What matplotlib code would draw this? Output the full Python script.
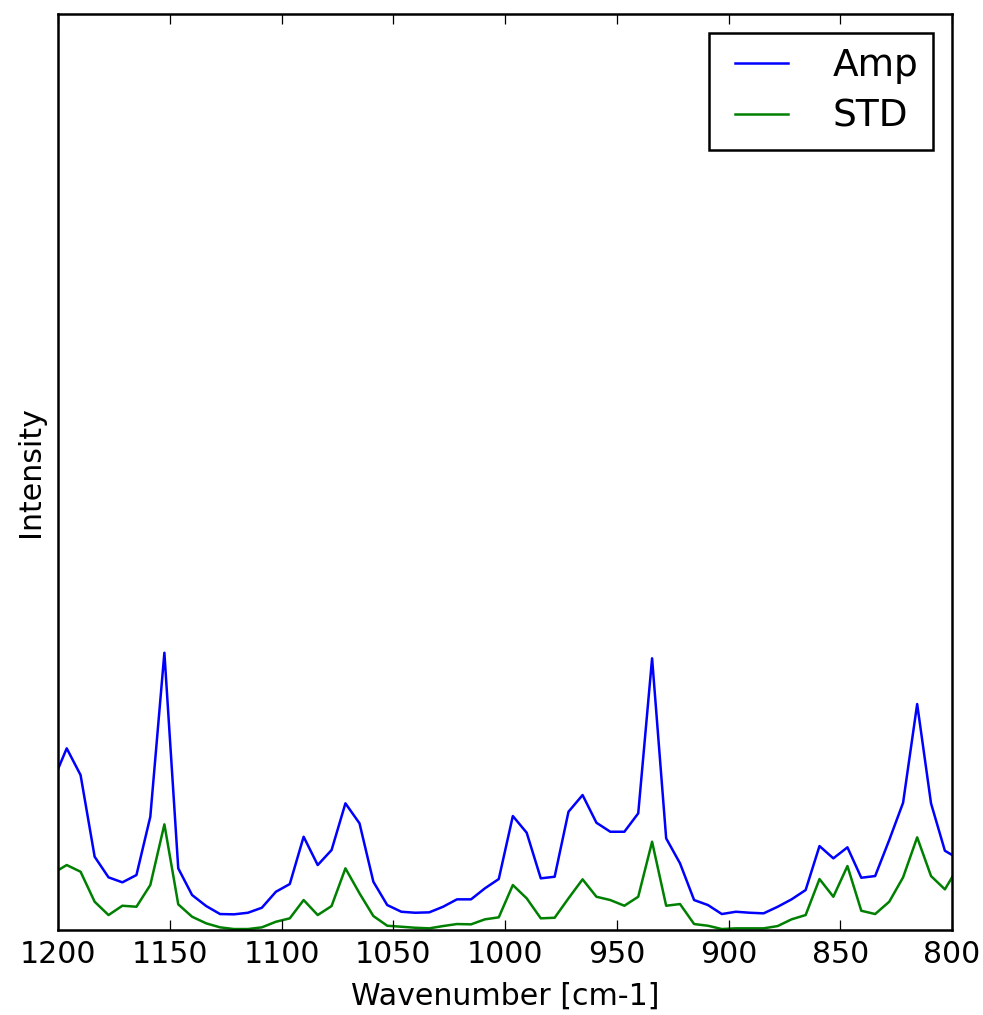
import numpy as np
import matplotlib
matplotlib.use("Agg")
import matplotlib.pyplot as plt

plt.style.use("classic")

# spectral axis (cm-1), sampled slightly beyond the plotted window on both ends
wavenumber = [1202.3, 1196.1, 1189.9, 1183.6, 1177.4, 1171.2, 1164.9, 1158.7,
              1152.4, 1146.2, 1140.0, 1133.7, 1127.5, 1121.3, 1115.0, 1108.8,
              1102.5, 1096.3, 1090.1, 1083.8, 1077.6, 1071.4, 1065.1, 1058.9,
              1052.7, 1046.4, 1040.2, 1033.9, 1027.7, 1021.5, 1015.2, 1009.0,
              1002.8, 996.5, 990.3, 984.0, 977.8, 971.6, 965.3, 959.1,
              952.9, 946.6, 940.4, 934.2, 927.9, 921.7, 915.4, 909.2,
              903.0, 896.7, 890.5, 884.3, 878.0, 871.8, 865.5, 859.3,
              853.1, 846.8, 840.6, 834.4, 828.1, 821.9, 815.6, 809.4,
              803.2, 796.9]

amp = [148.6, 181.7, 155.0, 73.3, 52.7, 47.7, 55.0, 113.3,
       277.3, 61.7, 35.0, 24.0, 16.0, 15.7, 17.3, 22.3,
       38.3, 46.0, 93.3, 65.0, 80.0, 126.7, 106.7, 48.3,
       25.0, 18.3, 17.3, 17.7, 23.3, 30.7, 30.7, 41.7,
       51.0, 114.0, 97.3, 51.7, 53.3, 118.3, 135.0, 107.3,
       98.3, 98.3, 116.7, 271.7, 91.7, 66.7, 30.0, 25.0,
       16.0, 18.3, 17.3, 16.7, 23.3, 30.7, 40.0, 84.0,
       71.7, 82.7, 52.3, 54.0, 90.0, 127.3, 226.0, 126.7,
       79.3, 71.0]

std = [56.7, 65.0, 58.3, 28.3, 15.0, 24.3, 23.3, 45.0,
       105.7, 25.7, 13.3, 6.7, 2.7, 1.0, 1.0, 2.7,
       8.3, 11.7, 30.0, 15.0, 24.0, 61.7, 36.7, 14.0,
       4.3, 3.3, 2.3, 1.7, 4.0, 6.0, 5.7, 10.7,
       12.7, 45.0, 31.7, 11.7, 12.3, 31.7, 50.7, 33.3,
       30.0, 24.3, 33.3, 88.3, 24.3, 26.0, 6.0, 4.3,
       1.0, 1.7, 1.7, 1.7, 4.0, 10.7, 15.0, 51.0,
       33.3, 64.0, 19.3, 16.0, 28.3, 52.7, 92.7, 54.0,
       40.7, 64.2]

DPI = 180
fig = plt.figure(figsize=(983 / DPI, 1015 / DPI), facecolor="white")
ax = fig.add_axes([0.059, 0.0837, 0.9095, 0.9025])

ax.plot(wavenumber, amp, color="b", lw=1.0, label="Amp")
ax.plot(wavenumber, std, color="g", lw=1.0, label="STD")

ax.set_xlim(1200, 800)
ax.set_ylim(0, 916)
ax.set_xticks(np.arange(1200, 799, -50))
ax.set_yticks([])
ax.set_xlabel("Wavenumber [cm-1]")
ax.set_ylabel("Intensity")
ax.legend(loc="upper right", fontsize=15, labelspacing=0.4,
          handletextpad=0.9)

fig.savefig("out.png", dpi=DPI, facecolor="white")
